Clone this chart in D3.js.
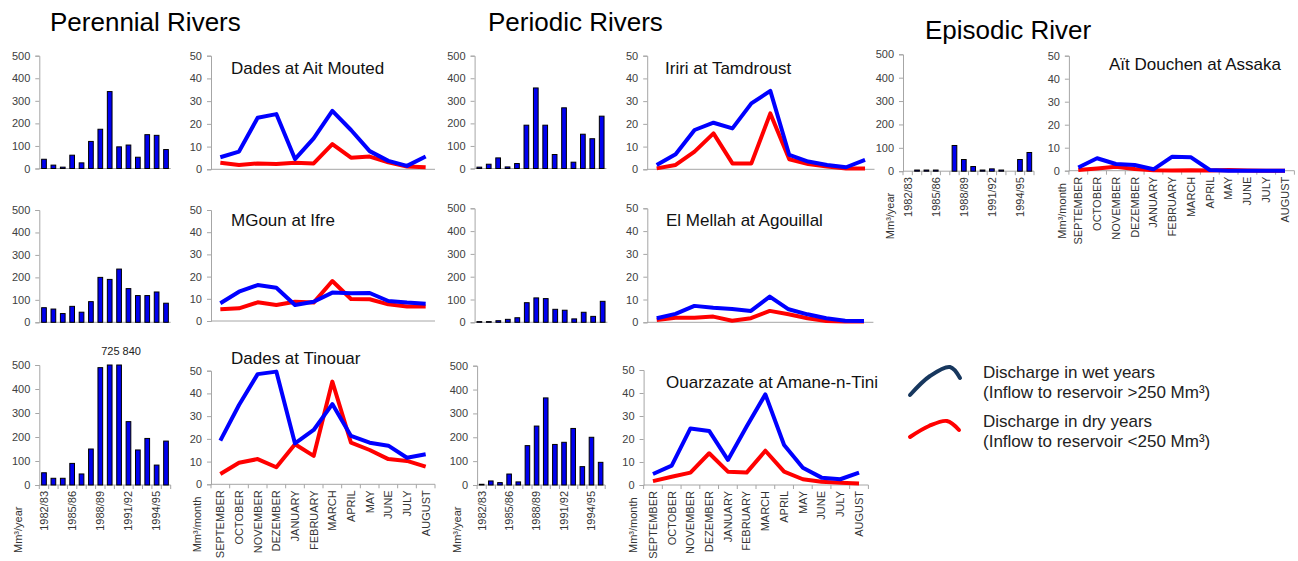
<!DOCTYPE html>
<html>
<head>
<meta charset="utf-8">
<script src="https://cdn.jsdelivr.net/npm/d3@7"></script>
<style>
  body { margin: 0; background: #fff; }
  text { font-family: "Liberation Sans", Arial, sans-serif; }
</style>
</head>
<body>
<svg width="1298" height="561"></svg>
<script>
// hydrological years and months
const years = ["1982/83","1983/84","1984/85","1985/86","1986/87","1987/88","1988/89",
  "1989/90","1990/91","1991/92","1992/93","1993/94","1994/95","1995/96"];
const yearTicks = ["1982/83","1985/86","1988/89","1991/92","1994/95"];
const months = ["SEPTEMBER","OCTOBER","NOVEMBER","DEZEMBER","JANUARY","FEBRUARY",
  "MARCH","APRIL","MAY","JUNE","JULY","AUGUST"];

// yearly discharge, Mm³/year
const aitMoutedYear = [41,15,6,59,25,120,174,341,96,104,50,150,147,84];
const ifreYear      = [65,59,39,71,45,92,200,191,237,150,119,119,135,85];
const tinouarYear   = [51,28,28,90,46,150,489,725,840,264,146,194,83,183];
const tamdroustYear = [6,19,47,7,22,192,357,192,62,269,28,152,132,232];
const agouillalYear = [3,3,7,13,20,86,107,104,57,53,15,44,26,92];
const amaneYear     = [3,17,10,46,13,165,247,365,170,179,237,77,200,95];
const assakaYear    = [0,5,5,5,0,110,50,20,5,10,5,0,50,80];

// monthly discharge, Mm³/month (wet years / dry years)
const aitMoutedWet = [5.3,7.8,22.7,24.3,4.5,13.6,25.7,17.3,8,3.7,1.5,5.6];
const aitMoutedDry = [2.9,1.9,2.6,2.3,2.9,2.6,11.1,5.1,5.6,3.1,1.2,0.9];
const ifreWet      = [8,13.2,16.2,15,7.2,8.7,12.8,12.5,12.6,9,8.3,7.8];
const ifreDry      = [5.3,5.7,8.4,7.2,8.7,8.3,18,9.9,9.8,7.5,6.5,6.5];
const tinouarWet   = [19.2,34.9,48.5,49.6,18,23.9,35.3,21.3,18.3,17,11.7,13.2];
const tinouarDry   = [4.5,9.5,11.1,7.5,17.6,12.5,45.2,18.3,15.1,11.1,10.3,7.8];
const tamdroustWet = [1.9,6.6,17.3,20.5,18,29,34.5,6.3,3.4,1.9,0.9,4.1];
const tamdroustDry = [0.4,1.9,7.8,15.8,2.6,2.6,24.6,4.4,2.3,1.2,0.4,0.3];
const agouillalWet = [1.8,3.7,7.2,6.4,5.8,5,11.3,5.7,3.5,1.8,0.7,0.6];
const agouillalDry = [1,2,2,2.5,0.7,1.8,5,3.5,1.8,0.6,0.3,0.3];
const amaneWet     = [4.8,8.4,24.6,23.5,10.9,25.4,39.4,17.4,7.5,3.2,2.5,5.4];
const amaneDry     = [1.7,3.6,5.4,13.8,5.8,5.4,14.9,5.8,2.5,1.4,1,0.7];
const assakaWet    = [1.4,5.4,2.9,2.5,0.6,6.1,5.8,0.3,0,0,0,0];
const assakaDry    = [0.3,1,1.7,0.7,0.2,0.1,0.2,0.1,0.3,0.1,0,0];

const yearTickValues = [0,100,200,300,400,500];
const monthTickValues = [0,10,20,30,40,50];

const legendLabels = [
  ["Discharge in wet years", "(Inflow to reservoir >250 Mm³)"],
  ["Discharge in dry years", "(Inflow to reservoir <250 Mm³)"]
];

const svg = d3.select("svg");
const axisColor = "#a6a6a6";
const wetColor = "#0000ff";
const dryColor = "#ff0000";

function styleAxis(g) {
  g.select(".domain").attr("stroke", axisColor);
  g.selectAll(".tick line").attr("stroke", axisColor);
  g.selectAll(".tick text").attr("fill", "#404040").style("font-size", "11px");
}

function xAxisLine(x0, x1, yb, step, withTicks) {
  svg.append("line").attr("x1", x0).attr("x2", x1).attr("y1", yb).attr("y2", yb)
    .attr("stroke", axisColor);
  if (!withTicks) return;
  const n = Math.round((x1 - x0) / step);
  svg.append("g").selectAll("line").data(d3.range(n + 1)).join("line")
    .attr("x1", (i) => x0 + i * step).attr("x2", (i) => x0 + i * step)
    .attr("y1", yb).attr("y2", yb + 4).attr("stroke", axisColor);
}

function rotatedLabels(labels, xpos, yb) {
  svg.append("g").selectAll("text").data(labels).join("text")
    .attr("transform", (d) => `translate(${xpos(d)},${yb + 6}) rotate(-90)`)
    .attr("text-anchor", "end").attr("dy", "0.35em")
    .style("font-size", "11px").attr("fill", "#333")
    .text((d) => d);
}

function unitLabel(txt, ux, yb) {
  svg.append("text")
    .attr("transform", `translate(${ux},${yb + 68}) rotate(-90)`)
    .attr("dy", "0.35em")
    .style("font-size", "11px").attr("fill", "#333")
    .text(txt);
}

function barPanel(p, values) {
  const x = d3.scaleBand().domain(years).range([p.x0, p.x1])
    .paddingInner(0.5).paddingOuter(0.25);
  const y = d3.scaleLinear().domain([0, 500]).range([p.yb, p.yt]).clamp(true);

  xAxisLine(p.x0, p.x1, p.yb, x.step(), p.labels);

  svg.append("g").selectAll("rect").data(values).join("rect")
    .attr("x", (d, i) => x(years[i]))
    .attr("width", x.bandwidth())
    .attr("y", (d) => y(d))
    .attr("height", (d) => y(0) - y(d))
    .attr("fill", "#0000f0")
    .attr("stroke", "#000").attr("stroke-width", 1);

  svg.append("g").attr("transform", `translate(${p.x0},0)`)
    .call(d3.axisLeft(y).tickValues(yearTickValues).tickSize(4).tickPadding(5))
    .call(styleAxis);

  // values that go off the chart
  const over = values.map((v, i) => [v, i]).filter((d) => d[0] > 500);
  if (over.length) {
    const last = over[over.length - 1][1];
    svg.append("text")
      .attr("x", x(years[last]) + x.bandwidth() / 2 + 2)
      .attr("y", p.yt - 10)
      .attr("text-anchor", "middle")
      .style("font-size", "11px").attr("fill", "#222")
      .text(over.map((d) => d[0]).join(" "));
  }

  if (p.labels) {
    rotatedLabels(yearTicks, (d) => x(d) + x.bandwidth() / 2, p.yb);
    unitLabel("Mm³/year", p.ux, p.yb);
  }
}

function linePanel(p, title, wet, dry) {
  const x = d3.scalePoint().domain(months).range([p.x0, p.x1]).padding(0.5);
  const y = d3.scaleLinear().domain([0, 50]).range([p.yb, p.yt]);

  xAxisLine(p.x0, p.x1, p.yb, x.step(), p.labels);

  svg.append("g").attr("transform", `translate(${p.x0},0)`)
    .call(d3.axisLeft(y).tickValues(monthTickValues).tickSize(4).tickPadding(5))
    .call(styleAxis);

  const line = d3.line().x((d, i) => x(months[i])).y((d) => y(d));
  svg.append("path").datum(dry).attr("d", line)
    .attr("fill", "none").attr("stroke", dryColor).attr("stroke-width", 4)
    .attr("stroke-linejoin", "round");
  svg.append("path").datum(wet).attr("d", line)
    .attr("fill", "none").attr("stroke", wetColor).attr("stroke-width", 4)
    .attr("stroke-linejoin", "round");

  svg.append("text").attr("x", p.tx).attr("y", p.ty)
    .style("font-size", "17px").attr("fill", "#111").text(title);

  if (p.labels) {
    rotatedLabels(months, (d) => x(d), p.yb);
    unitLabel("Mm³/month", p.ux, p.yb);
  }
}

// group headings
svg.append("text").attr("x", 50).attr("y", 31).style("font-size", "26px").text("Perennial Rivers");
svg.append("text").attr("x", 488).attr("y", 31).style("font-size", "26px").text("Periodic Rivers");
svg.append("text").attr("x", 925).attr("y", 39).style("font-size", "26px").text("Episodic River");

// perennial rivers
barPanel({x0: 39.3, x1: 170.7, yt: 55.7, yb: 168.5}, aitMoutedYear);
linePanel({x0: 211, x1: 435, yt: 55.7, yb: 169.3, tx: 231, ty: 74}, "Dades at Ait Mouted", aitMoutedWet, aitMoutedDry);
barPanel({x0: 39.3, x1: 170.7, yt: 210, yb: 322.3}, ifreYear);
linePanel({x0: 211, x1: 435, yt: 210, yb: 321, tx: 231, ty: 226}, "MGoun at Ifre", ifreWet, ifreDry);
barPanel({x0: 39.3, x1: 170.7, yt: 365, yb: 485, labels: true, ux: 18}, tinouarYear);
linePanel({x0: 211, x1: 435, yt: 370.7, yb: 484.3, tx: 231, ty: 364, labels: true, ux: 197}, "Dades at Tinouar", tinouarWet, tinouarDry);

// periodic rivers
barPanel({x0: 474.6, x1: 606.4, yt: 55.7, yb: 168.5}, tamdroustYear);
linePanel({x0: 647.2, x1: 874.5, yt: 55.7, yb: 169.3, tx: 665, ty: 74}, "Iriri at Tamdroust", tamdroustWet, tamdroustDry);
barPanel({x0: 474.6, x1: 607.4, yt: 208.3, yb: 322.3}, agouillalYear);
linePanel({x0: 647.3, x1: 873.4, yt: 208.3, yb: 322.3, tx: 666, ty: 226}, "El Mellah at Agouillal", agouillalWet, agouillalDry);
barPanel({x0: 477.1, x1: 605.2, yt: 365.7, yb: 485, labels: true, ux: 457}, amaneYear);
linePanel({x0: 643.6, x1: 868.4, yt: 370, yb: 485, tx: 666, ty: 388, labels: true, ux: 633}, "Ouarzazate at Amane-n-Tini", amaneWet, amaneDry);

// episodic river
barPanel({x0: 903, x1: 1034, yt: 54.3, yb: 171.2, labels: true, ux: 890}, assakaYear);
linePanel({x0: 1068.9, x1: 1294.4, yt: 55.7, yb: 170.7, tx: 1109, ty: 70, labels: true, ux: 1062}, "Aït Douchen at Assaka", assakaWet, assakaDry);

// legend
const iconShapes = [
  [[0, 13], [20, -6], [40, -15], [50, -4]],
  [[0, 6], [19, -5], [37, -10], [49, -1]]
];
const iconLine = d3.line().curve(d3.curveCatmullRom);
const legend = svg.append("g").attr("transform", "translate(910,382)");
const legendColors = ["#17375e", dryColor];
legendLabels.forEach((lab, i) => {
  const row = legend.append("g").attr("transform", `translate(0,${i * 49})`);
  row.append("path").attr("d", iconLine(iconShapes[i]))
    .attr("fill", "none").attr("stroke", legendColors[i]).attr("stroke-width", 4)
    .attr("stroke-linecap", "round");
  row.append("text").attr("x", 73).attr("y", -4).style("font-size", "17px").attr("fill", "#222").text(lab[0]);
  row.append("text").attr("x", 73).attr("y", 16).style("font-size", "17px").attr("fill", "#222").text(lab[1]);
});
</script>
</body>
</html>
